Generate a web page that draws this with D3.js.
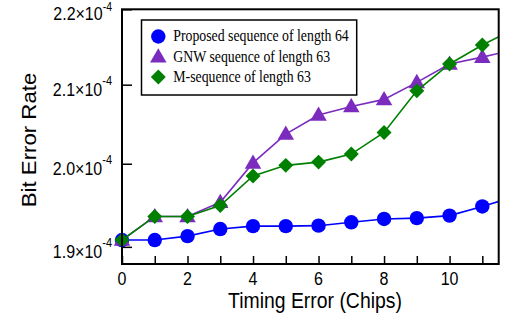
<!DOCTYPE html>
<html><head><meta charset="utf-8">
<script src="https://cdn.jsdelivr.net/npm/d3@7"></script>
<style>body{margin:0;background:#fff}svg{display:block}</style>
</head><body>
<svg id="c" width="505" height="322"></svg>
<script>
const timing = [0,1,2,3,4,5,6,7,8,9,10,11,12];
const proposed = [1.908,1.908,1.9126,1.921,1.9245,1.9245,1.925,1.929,1.933,1.934,1.937,1.948,1.960];
const gnw = [1.908,1.936,1.936,1.953,2.001,2.037,2.061,2.072,2.081,2.103,2.127,2.136,2.146];
const mseq = [1.908,1.936,1.936,1.949,1.985,1.998,2.002,2.012,2.039,2.092,2.127,2.152,2.174];
const yTicks = [1.9,2.0,2.1,2.2];
const yTickLabels = ["1.9","2.0","2.1","2.2"];
const xTicks = [0,1,2,3,4,5,6,7,8,9,10,11];
const xLabelTicks = [0,2,4,6,8,10];
const seriesNames = ["Proposed sequence of length 64","GNW sequence of length 63","M-sequence of length 63"];
const colors = ["#0000ff","#7b2cbf","#008000"];
const scaleExp = 1e-4;

const svg = d3.select("#c");
const L=122,R=498.7,T=9.3,B=264;
const SY=1.145; // vertical stretch of the text in the reference
const SANS="Liberation Sans, Arial, Helvetica, sans-serif";
const x = d3.scaleLinear().domain([0,11.5]).range([L,R]);
const y = d3.scaleLog().domain([1.88e-4,2.2e-4]).range([B,T]);

svg.append("clipPath").attr("id","clip").append("rect").attr("x",L).attr("y",T).attr("width",R-L).attr("height",B-T);

// ticks
svg.append("g").attr("transform",`translate(0,${B})`)
  .call(d3.axisBottom(x).tickValues(xTicks).tickSizeInner(-8).tickSizeOuter(0).tickFormat(""))
  .call(g=>{g.select(".domain").remove();g.selectAll("line").attr("stroke","#000").attr("stroke-width",1.5);});
svg.append("g").attr("transform",`translate(${L},0)`)
  .call(d3.axisLeft(y).tickValues(yTicks.map(v=>v*scaleExp)).tickSizeInner(-10).tickSizeOuter(0).tickFormat(""))
  .call(g=>{g.select(".domain").remove();g.selectAll("line").attr("stroke","#000").attr("stroke-width",1.5);});

// x labels
svg.append("g").selectAll("text").data(xLabelTicks).join("text")
  .attr("transform",d=>`translate(${x(d)},284.5) scale(1,${SY})`).attr("text-anchor","middle")
  .attr("font-family",SANS).attr("font-size",16)
  .text(d=>String(d));

// y labels
const yl = svg.append("g").selectAll("text").data(yTicks).join("text")
  .attr("transform",d=>`translate(112,${y(d*scaleExp)+11}) scale(1,${SY})`).attr("text-anchor","end")
  .attr("font-family",SANS).attr("font-size",16);
yl.append("tspan").text((d,i)=>yTickLabels[i]+"\u00d710");
yl.append("tspan").attr("font-size",(d,i)=>i===yTicks.length-1?10.5:11)
  .attr("dy",(d,i)=>i===yTicks.length-1?-8.0:-9.4).text("-4");

// axis titles
svg.append("text").attr("transform",`translate(315,307.5) scale(1,${SY})`).attr("text-anchor","middle")
  .attr("font-family",SANS).attr("font-size",19.4).text("Timing Error (Chips)");
svg.append("text").attr("transform",`translate(36,140) scale(1,${SY}) rotate(-90)`).attr("text-anchor","middle")
  .attr("font-family",SANS).attr("font-size",19.4).text("Bit Error Rate");

const allSeries=[proposed,gnw,mseq];
const line=d3.line().x(d=>x(d[0])).y(d=>y(d[1]*scaleExp));
function marker(g,i,cx,cy){
  if(i===0) g.append("circle").attr("cx",cx).attr("cy",cy).attr("r",7.2).attr("fill",colors[i]);
  else if(i===1) g.append("path").attr("d",d3.symbol(d3.symbolTriangle,118)()).attr("transform",`translate(${cx},${cy+1})`).attr("fill",colors[i]);
  else g.append("path").attr("d",d3.symbol(d3.symbolSquare,112)()).attr("transform",`translate(${cx},${cy}) rotate(45)`).attr("fill",colors[i]);
}
allSeries.forEach((s,i)=>{
  const pts=timing.map((t,j)=>[t,s[j]]);
  svg.append("path").attr("d",line(pts)).attr("fill","none").attr("stroke",colors[i]).attr("stroke-width",1.6).attr("clip-path","url(#clip)");
  const g=svg.append("g");
  pts.filter(p=>p[0]<=x.domain()[1]).forEach(p=>marker(g,i,x(p[0]),y(p[1]*scaleExp)));
});

// frame
svg.append("rect").attr("x",L).attr("y",T).attr("width",R-L).attr("height",B-T).attr("fill","none").attr("stroke","#000").attr("stroke-width",2);

// legend
const lg=svg.append("g");
lg.append("rect").attr("x",141.5).attr("y",20).attr("width",215.2).attr("height",75).attr("fill","#fff").attr("stroke","#000").attr("stroke-width",1.5);
seriesNames.forEach((n,i)=>{
  const cy=36.5+i*20.2;
  marker(lg,i,158.3,cy);
  lg.append("text").attr("transform",`translate(173.3,${cy+4.8}) scale(1,${SY})`)
    .attr("font-family","Liberation Serif, Times New Roman, serif").attr("font-size",13.8).text(n);
});
</script>
</body></html>
